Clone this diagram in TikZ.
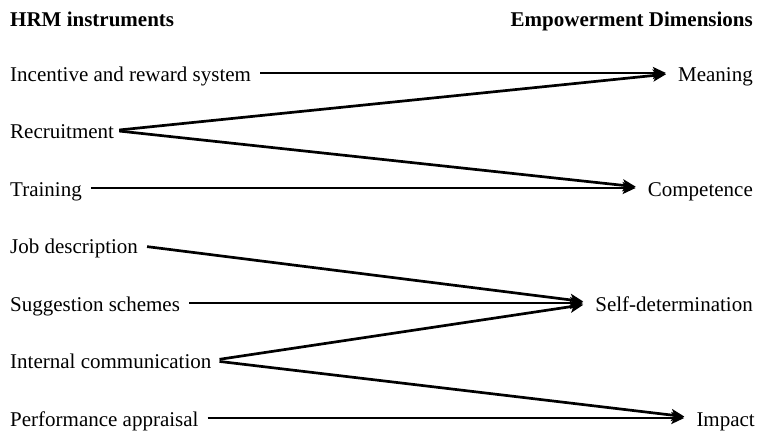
\documentclass[tikz,border=0pt]{standalone}
\usepackage{fontspec}
\setmainfont{Liberation Serif}
\usetikzlibrary{arrows.meta}
\begin{document}
\begin{tikzpicture}[x=1pt,y=-1pt,
  every node/.style={font=\fontsize{21}{25}\selectfont, inner sep=0pt,
    text height=21pt, text depth=5pt},
  head/.style={font=\fontsize{21}{25}\selectfont\bfseries},
  instr/.style={anchor=west},
  dim/.style={anchor=east},
  link/.style={line width=2.7pt, shorten <=9pt, shorten >=12pt,
    -{Stealth[length=13pt,width=12pt,inset=3pt]}}]
  \useasboundingbox (0,0) rectangle (758,431);
  % column headings
  \node[head, anchor=base west] (h1) at (10,27) {HRM instruments};
  \node[head, anchor=base east] (h2) at (753,27) {Empowerment Dimensions};
  % HRM instruments
  \node[instr] (inc) at (10,73)    {Incentive and reward system};
  \node[instr] (rec) at (10,130.5) {Recruitment};
  \node[instr] (tra) at (10,188)   {Training};
  \node[instr] (job) at (10,245.5) {Job description};
  \node[instr] (sug) at (10,303)   {Suggestion schemes};
  \node[instr] (int) at (10,360.5) {Internal communication};
  \node[instr] (per) at (10,418)   {Performance appraisal};
  % empowerment dimensions
  \node[dim] (mea) at (753,73)  {Meaning};
  \node[dim] (com) at (753,188) {Competence};
  \node[dim] (sel) at (753,303) {Self-determination};
  \node[dim] (imp) at (755,418) {Impact};
  % links
  \draw[link] (inc.east) -- (mea.west);
  \draw[link, shorten <=5pt] (rec.east) -- (mea.west);
  \draw[link, shorten <=5pt] (rec.east) -- (com.west);
  \draw[link] (tra.east) -- (com.west);
  \draw[link] (job.east) -- (sel.west);
  \draw[link] (sug.east) -- (sel.west);
  \draw[link, shorten <=8pt] (int.east) -- (sel.west);
  \draw[link, shorten <=8pt] (int.east) -- (imp.west);
  \draw[link] (per.east) -- (imp.west);
\end{tikzpicture}
\end{document}
